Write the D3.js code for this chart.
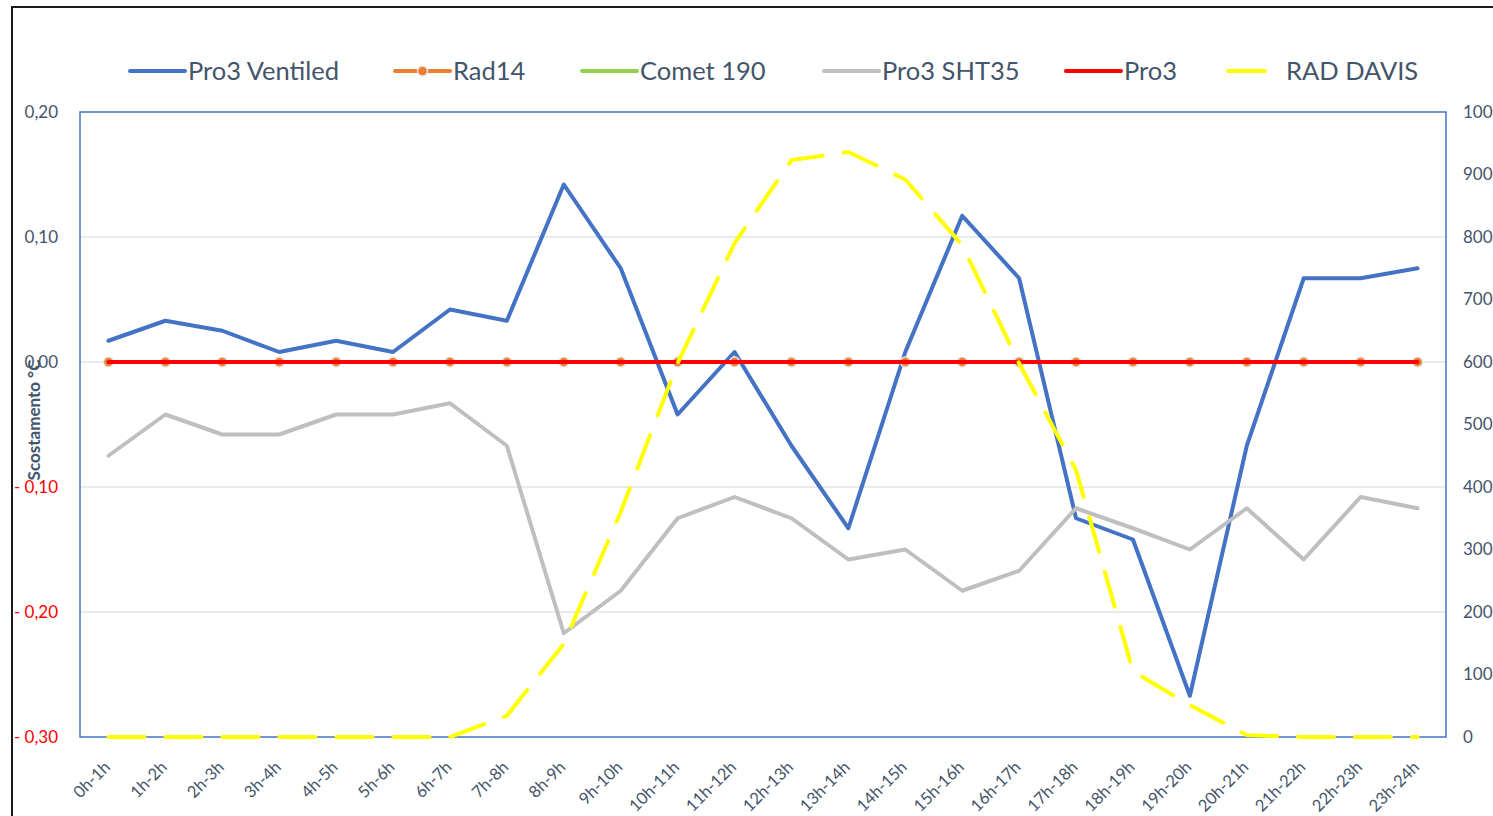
<!DOCTYPE html>
<html>
<head>
<meta charset="utf-8" />
<title>Scostamento</title>
<style>
  body { margin: 0; background: #fff; }
  svg { display: block; }
  .tick text { font-family: Lato, "Open Sans", sans-serif; }
  .legend text { font-family: Lato, "Open Sans", sans-serif; font-size: 25.5px; fill: #44546a; }
</style>
<script src="https://d3js.org/d3.v7.min.js"></script>
</head>
<body>
<div id="chart"></div>
<script>
var hours = ["0h-1h","1h-2h","2h-3h","3h-4h","4h-5h","5h-6h","6h-7h","7h-8h","8h-9h","9h-10h",
  "10h-11h","11h-12h","12h-13h","13h-14h","14h-15h","15h-16h","16h-17h","17h-18h","18h-19h",
  "19h-20h","20h-21h","21h-22h","22h-23h","23h-24h"];

var pro3Ventiled = [0.017,0.033,0.025,0.008,0.017,0.008,0.042,0.033,0.142,0.075,-0.042,0.008,
  -0.067,-0.133,0.008,0.117,0.067,-0.125,-0.142,-0.267,-0.067,0.067,0.067,0.075];
var rad14 = [0,0,0,0,0,0,0,0,0,0,0,0,0,0,0,0,0,0,0,0,0,0,0,0];
var comet190 = [0,0,0,0,0,0,0,0,0,0,0,0,0,0,0,0,0,0,0,0,0,0,0,0];
var pro3Sht35 = [-0.075,-0.042,-0.058,-0.058,-0.042,-0.042,-0.033,-0.067,-0.217,-0.183,-0.125,-0.108,
  -0.125,-0.158,-0.15,-0.183,-0.167,-0.117,-0.133,-0.15,-0.117,-0.158,-0.108,-0.117];
var pro3 = [0,0,0,0,0,0,0,0,0,0,0,0,0,0,0,0,0,0,0,0,0,0,0,0];
var radDavis = [0,0,0,0,0,0,0,34,149,360,598,790,923,936,892,787,598,427,105,51,3,0,0,0];

var leftTicks = [0.2,0.1,0,-0.1,-0.2,-0.3];
var rightTicks = [0,100,200,300,400,500,600,700,800,900,1000];

var width = 1493, height = 816;
var plot = { left: 80, right: 1446, top: 112, bottom: 737 };

var svg = d3.select("#chart").append("svg")
  .attr("width", width).attr("height", height);

// outer frame (only top and left visible)
svg.append("rect")
  .attr("x", 12).attr("y", 7)
  .attr("width", 1600).attr("height", 900)
  .attr("fill", "#fff").attr("stroke", "#1a1a1a").attr("stroke-width", 2);

var x = d3.scalePoint().domain(hours).range([plot.left, plot.right]).padding(0.5);
var y = d3.scaleLinear().domain([-0.3, 0.2]).range([plot.bottom, plot.top]);
var y2 = d3.scaleLinear().domain([0, 1000]).range([plot.bottom, plot.top]);

// gridlines
svg.append("g").selectAll("line")
  .data(leftTicks.filter(function (d) { return d < 0.2 && d > -0.3; }))
  .enter().append("line")
  .attr("x1", plot.left).attr("x2", plot.right)
  .attr("y1", function (d) { return y(d); })
  .attr("y2", function (d) { return y(d); })
  .attr("stroke", "#dfe3ea").attr("stroke-width", 1.5);

// plot border
svg.append("rect")
  .attr("x", plot.left).attr("y", plot.top)
  .attr("width", plot.right - plot.left).attr("height", plot.bottom - plot.top)
  .attr("fill", "none").attr("stroke", "#4472c4").attr("stroke-width", 1.5);

// left axis
var fmt = function (d) {
  var s = Math.abs(d).toFixed(2).replace(".", ",");
  return d < 0 ? "- " + s : s;
};
var yAxisG = svg.append("g")
  .attr("transform", "translate(" + 58 + ",0)")
  .call(d3.axisLeft(y).tickValues(leftTicks).tickSize(0).tickPadding(0).tickFormat(fmt));
yAxisG.select(".domain").remove();
yAxisG.selectAll("text")
  .attr("font-size", 17)
  .attr("fill", function (d) { return d < 0 ? "#ff0000" : "#44546a"; });

// right axis
var y2AxisG = svg.append("g")
  .attr("transform", "translate(" + 1463 + ",0)")
  .call(d3.axisRight(y2).tickValues(rightTicks).tickSize(0).tickPadding(0).tickFormat(d3.format("d")));
y2AxisG.select(".domain").remove();
y2AxisG.selectAll("text").attr("font-size", 17).attr("fill", "#44546a");

// x axis
var xAxisG = svg.append("g")
  .attr("transform", "translate(0," + plot.bottom + ")")
  .call(d3.axisBottom(x).tickSize(0));
xAxisG.select(".domain").remove();
xAxisG.selectAll("text")
  .attr("font-size", 16.5)
  .attr("fill", "#44546a")
  .attr("text-anchor", "end")
  .attr("dy", "0.35em")
  .attr("transform", "translate(-4,25) rotate(-45)");

// y title
svg.append("text")
  .attr("transform", "translate(34,420) rotate(-90)")
  .attr("text-anchor", "middle")
  .attr("dy", "0.35em")
  .attr("font-family", "Lato, 'Open Sans', sans-serif")
  .attr("font-weight", "bold")
  .attr("font-size", 17)
  .attr("fill", "#44546a")
  .text("Scostamento °C");

var line = d3.line()
  .x(function (d, i) { return x(hours[i]); })
  .y(function (d) { return y(d); });
var line2 = d3.line()
  .x(function (d, i) { return x(hours[i]); })
  .y(function (d) { return y2(d); });

function drawLine(data, color, gen) {
  svg.append("path")
    .datum(data)
    .attr("d", gen || line)
    .attr("fill", "none")
    .attr("stroke", color)
    .attr("stroke-width", 4)
    .attr("stroke-linejoin", "round")
    .attr("stroke-linecap", "round");
}

drawLine(pro3Ventiled, "#4472c4");
drawLine(rad14, "#ed7d31");
svg.append("g").selectAll("circle")
  .data(rad14).enter().append("circle")
  .attr("cx", function (d, i) { return x(hours[i]); })
  .attr("cy", function (d) { return y(d); })
  .attr("r", 5)
  .attr("fill", "#ed7d31")
  .attr("stroke", "#e6e6e6")
  .attr("stroke-width", 1.5);
drawLine(comet190, "#92d050");
drawLine(pro3Sht35, "#bfbfbf");
drawLine(pro3, "#ff0000");

svg.append("path")
  .datum(radDavis)
  .attr("d", line2)
  .attr("fill", "none")
  .attr("stroke", "#ffff00")
  .attr("stroke-width", 4)
  .attr("stroke-dasharray", "36,21")
  .attr("stroke-linecap", "round");

// legend
var legendItems = [
  { name: "Pro3 Ventiled", color: "#4472c4", x: 130 },
  { name: "Rad14", color: "#ed7d31", x: 395, marker: true },
  { name: "Comet 190", color: "#92d050", x: 582 },
  { name: "Pro3 SHT35", color: "#bfbfbf", x: 824 },
  { name: "Pro3", color: "#ff0000", x: 1066 },
  { name: "RAD DAVIS", color: "#ffff00", x: 1228, dash: true }
];
var legend = svg.append("g").attr("class", "legend");
var li = legend.selectAll("g").data(legendItems).enter().append("g")
  .attr("transform", function (d) { return "translate(" + d.x + ",71)"; });
li.append("line")
  .attr("x1", 0)
  .attr("x2", function (d) { return d.dash ? 37 : 55; })
  .attr("stroke", function (d) { return d.color; })
  .attr("stroke-width", 4)
  .attr("stroke-linecap", "round");
li.filter(function (d) { return d.marker; }).append("circle")
  .attr("cx", 27.5).attr("r", 5)
  .attr("fill", "#ed7d31").attr("stroke", "#e6e6e6").attr("stroke-width", 1.5);
li.append("text")
  .attr("x", 58)
  .attr("dy", "0.35em")
  .text(function (d) { return d.name; });
</script>
</body>
</html>
